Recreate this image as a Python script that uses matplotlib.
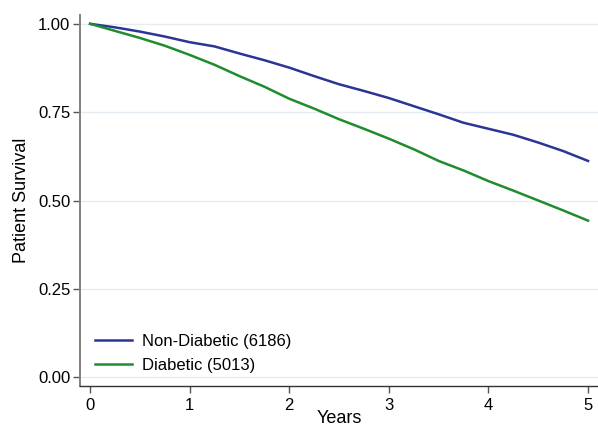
import matplotlib
matplotlib.use("Agg")
import matplotlib.pyplot as plt

plt.rcParams['font.family'] = ['Liberation Sans', 'DejaVu Sans']

# Kaplan-Meier survival
years = [0, 0.25, 0.5, 0.75, 1, 1.25, 1.5, 1.75, 2, 2.25, 2.5,
         2.75, 3, 3.25, 3.5, 3.75, 4, 4.25, 4.5, 4.75, 5]
non_diabetic = [1.0, 0.99, 0.978, 0.964, 0.948, 0.936, 0.916, 0.897, 0.876, 0.852, 0.829,
                0.81, 0.79, 0.767, 0.744, 0.72, 0.703, 0.686, 0.664, 0.64, 0.612]
diabetic = [1.0, 0.98, 0.96, 0.938, 0.912, 0.884, 0.852, 0.822, 0.788, 0.76, 0.73,
            0.703, 0.675, 0.645, 0.612, 0.585, 0.555, 0.528, 0.50, 0.472, 0.443]
labels = ['Non-Diabetic (6186)', 'Diabetic (5013)']
y_ticks = [0, 0.25, 0.5, 0.75, 1.0]
x_ticks = [0, 1, 2, 3, 4, 5]

fig = plt.figure(figsize=(5.98, 4.28), dpi=100)
ax = fig.add_axes([0.134, 0.098, 0.866, 0.867])

for y in y_ticks:
    ax.axhline(y, color='#e6edf2', lw=1.0, zorder=0)

ax.plot(years, non_diabetic, color='#2b3595', lw=1.8, label=labels[0])
ax.plot(years, diabetic, color='#1f8c2e', lw=1.8, label=labels[1])

ax.set_xlim(-0.1, 5.1)
ax.set_ylim(-0.025, 1.025)
ax.set_xticks(x_ticks)
ax.set_yticks(y_ticks)
ax.set_yticklabels(['%.2f' % v for v in y_ticks])
ax.tick_params(labelsize=12, length=5, width=1, color='#555555')
ax.tick_params(axis='y', pad=2)

for s in ['top', 'right']:
    ax.spines[s].set_visible(False)
ax.spines['left'].set_color('#808080')
ax.spines['left'].set_linewidth(1.4)
ax.spines['bottom'].set_color('#333333')
ax.spines['bottom'].set_linewidth(1.0)

ax.set_xlabel('Years', fontsize=13, labelpad=-2)
ax.set_ylabel('Patient Survival', fontsize=13, labelpad=6)

ax.legend(loc='lower left', bbox_to_anchor=(0.0, -0.005), frameon=False,
          fontsize=12, handlelength=2.2, handletextpad=0.6, labelspacing=0.55)

fig.savefig('out.png', dpi=100)
